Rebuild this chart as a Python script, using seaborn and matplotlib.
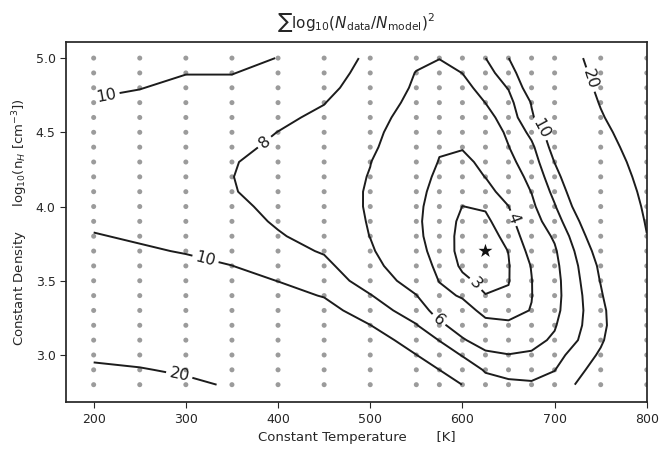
import numpy as np
import pandas as pd
import matplotlib
matplotlib.use("Agg")
import matplotlib.pyplot as plt
import seaborn as sns

# ---- data -------------------------------------------------------------
temperatures = [200, 250, 300, 350, 400, 450, 500, 550, 575, 600, 625, 650, 675, 700, 750, 800]
densities = [2.8, 2.9, 3.0, 3.1, 3.2, 3.3, 3.4, 3.5, 3.6, 3.7, 3.8, 3.9,
             4.0, 4.1, 4.2, 4.3, 4.4, 4.5, 4.6, 4.7, 4.8, 4.9, 5.0]

# sum log10(N_data/N_model)^2 for each temperature column, density 2.8 -> 5.0
chi2_by_temperature = {
    200: [22.5, 21, 19, 17, 15.5, 14, 12.8, 11.8, 11, 10.5, 10.1, 9.7, 9.4, 9.2, 9.1, 9.1, 9.2, 9.4, 9.6, 9.9, 10.2, 10.5, 10.8],
    250: [21.5, 20.3, 18.5, 16.5, 15, 13.6, 12.4, 11.4, 10.7, 10.2, 9.8, 9.4, 9.1, 8.9, 8.8, 8.8, 8.9, 9.1, 9.3, 9.6, 10.05, 10.4, 10.7],
    300: [21, 19.3, 17.5, 15.8, 14.3, 13, 11.9, 11, 10.4, 9.9, 9.5, 9.1, 8.8, 8.6, 8.5, 8.5, 8.6, 8.8, 9.0, 9.3, 9.6, 10.05, 10.4],
    350: [19.5, 17.5, 15.8, 14.4, 13.2, 12.2, 11.3, 10.6, 10.02, 9.4, 9.0, 8.7, 8.45, 8.1, 8.03, 8.1, 8.4, 8.6, 8.85, 9.3, 9.6, 10.05, 10.3],
    400: [16.5, 15.2, 14.0, 13.0, 12.1, 11.3, 10.6, 9.97, 9.2, 8.6, 8.15, 7.8, 7.5, 7.35, 7.35, 7.45, 7.7, 7.98, 8.3, 8.65, 9.05, 9.5, 9.98],
    450: [15.7, 14.5, 13.4, 12.4, 11.5, 10.7, 9.9, 9.1, 8.45, 7.85, 7.35, 6.95, 6.7, 6.65, 6.7, 6.8, 7.05, 7.35, 7.7, 8.05, 8.5, 8.9, 9.3],
    500: [14.0, 13.0, 12.0, 11.0, 10.03, 9.0, 8.1, 7.1, 6.55, 6.2, 5.97, 5.9, 5.87, 5.88, 5.94, 6.03, 6.25, 6.4, 6.6, 6.8, 7.05, 7.3, 7.57],
    550: [12.0, 11.0, 10.02, 9.1, 8.1, 7.0, 6.05, 5.2, 4.7, 4.35, 4.2, 4.15, 4.18, 4.25, 4.4, 4.65, 4.85, 5.05, 5.3, 5.6, 5.8, 5.95, 6.3],
    575: [11.0, 10.0, 9.0, 7.95, 6.3, 5.2, 4.4, 3.95, 3.7, 3.6, 3.55, 3.55, 3.6, 3.7, 3.8, 3.95, 4.1, 4.3, 4.5, 4.7, 5.0, 5.4, 6.05],
    600: [9.98, 9.0, 7.9, 6.15, 5.3, 4.6, 3.85, 3.2, 2.85, 2.68, 2.7, 2.8, 2.99, 3.3, 3.55, 3.8, 4.05, 4.3, 4.6, 4.95, 5.4, 6.02, 6.5],
    625: [8.6, 7.85, 6.3, 5.3, 4.4, 3.6, 3.03, 2.75, 2.5, 2.4, 2.55, 2.8, 3.1, 3.6, 4.02, 4.2, 4.5, 4.9, 5.4, 6.02, 6.7, 7.3, 7.98],
    650: [8.3, 7.5, 6.05, 5.0, 4.2, 3.6, 3.1, 2.96, 2.95, 3.02, 3.3, 3.6, 3.98, 4.5, 5.0, 5.5, 5.95, 6.3, 6.8, 7.4, 8.1, 9.0, 9.97],
    675: [8.2, 7.4, 6.2, 5.5, 4.7, 4.05, 3.96, 3.97, 4.05, 4.35, 4.7, 5.1, 5.6, 6.05, 6.5, 7.0, 7.6, 8.5, 9.8, 10.1, 11.2, 12.0, 12.8],
    700: [8.6, 7.95, 7.3, 6.25, 5.85, 5.5, 5.35, 5.35, 5.5, 5.75, 6.25, 7.1, 7.85, 8.5, 9.2, 10.05, 10.8, 11.3, 11.7, 12.2, 12.8, 13.6, 14.5],
    750: [11.8, 11.0, 10.3, 9.7, 9.45, 9.5, 9.75, 10.1, 10.4, 11.0, 11.8, 12.5, 13.5, 14.3, 15.2, 16.1, 17.1, 18.2, 19.4, 20.4, 21.4, 22.4, 23.4],
    800: [16.0, 15.2, 14.5, 13.8, 13.5, 13.7, 15.0, 16.8, 18.2, 19.2, 19.9, 20.4, 20.9, 21.5, 22.2, 23.0, 24.0, 25.0, 26.2, 27.5, 29.0, 30.5, 32.0],
}

contour_levels = [3, 4, 6, 8, 10, 20]
x_ticks = [200, 300, 400, 500, 600, 700, 800]
y_ticks = [3.0, 3.5, 4.0, 4.5, 5.0]

# where the contour labels sit (near the lines they annotate)
label_spots = [(214, 4.74), (383, 4.45), (321, 3.64), (293, 2.87), (575, 3.24),
               (613, 3.47), (655, 3.92), (684, 4.52), (736, 4.85)]

# ---- plotting ---------------------------------------------------------
sns.set_theme(style="ticks")
plt.rcParams["font.family"] = ["DejaVu Sans"]

fig = plt.figure(figsize=(6.6, 4.49), dpi=100)
ax = fig.add_axes([0.1, 0.1036, 0.88, 0.8034])

grid = pd.DataFrame([(t, d) for t in temperatures for d in densities],
                    columns=["T", "logn"])
sns.scatterplot(data=grid, x="T", y="logn", color="#9b9b9b", s=13,
                edgecolor="none", linewidth=0, ax=ax, zorder=1)

Z = np.array([chi2_by_temperature[t] for t in temperatures]).T
cs = ax.contour(temperatures, densities, Z, levels=contour_levels,
                colors="#1c1c1c", linewidths=1.4, zorder=3)
ax.clabel(cs, fmt="%d", fontsize=11.5, inline=True, inline_spacing=4,
          manual=label_spots)

iy, ix = np.unravel_index(np.argmin(Z), Z.shape)
best = pd.DataFrame({"T": [temperatures[ix]], "logn": [densities[iy]]})
sns.scatterplot(data=best, x="T", y="logn", marker="*", s=110, color="#111111",
                edgecolor="none", ax=ax, zorder=5)

ax.set_xlim(170, 800)
ax.set_ylim(2.68, 5.11)
ax.set_xticks(x_ticks)
ax.set_yticks(y_ticks)
ax.tick_params(labelsize=9, length=4, width=0.8)
ax.set_xlabel("Constant Temperature       [K]", fontsize=9.5)
ax.set_ylabel(r"Constant Density      log$_{10}$(n$_H$ [cm$^{-3}$])", fontsize=9.5)
ax.set_title(r"$\sum\mathrm{log}_{10}(N_{\rm data}/N_{\rm model})^2$", fontsize=11, pad=10)

fig.savefig("out.png", dpi=100)
